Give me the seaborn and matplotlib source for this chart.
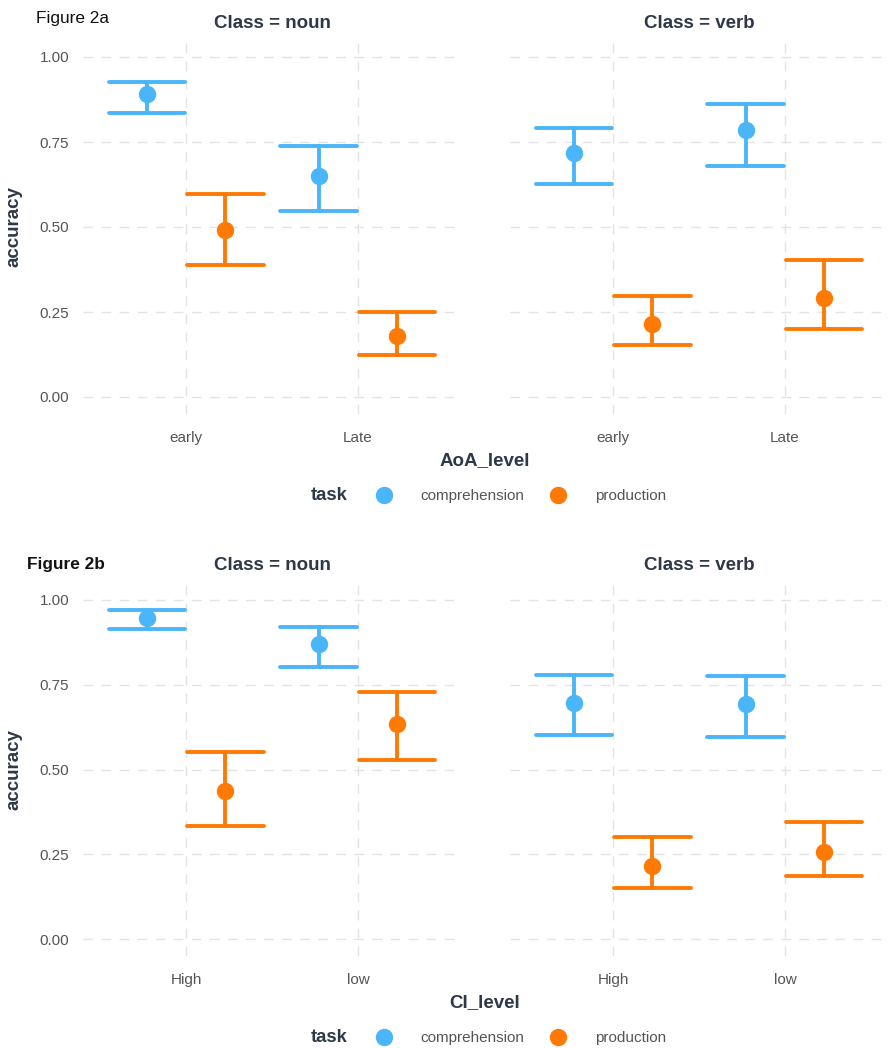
import numpy as np
import pandas as pd
import seaborn as sns
import matplotlib
matplotlib.use("Agg")
import matplotlib.pyplot as plt
from matplotlib.lines import Line2D

# ---- data -------------------------------------------------------------
classes = ["noun", "verb"]
tasks = ["comprehension", "production"]
aoa_levels = ["early", "Late"]
ci_levels = ["High", "low"]

# ordered by class -> level -> task
aoa_mean = [0.890, 0.492, 0.649, 0.180, 0.718, 0.216, 0.784, 0.292]
aoa_lower = [0.836, 0.389, 0.546, 0.125, 0.627, 0.154, 0.680, 0.200]
aoa_upper = [0.927, 0.596, 0.738, 0.251, 0.791, 0.296, 0.861, 0.404]

ci_mean = [0.948, 0.438, 0.871, 0.635, 0.697, 0.216, 0.692, 0.257]
ci_lower = [0.914, 0.332, 0.803, 0.528, 0.601, 0.150, 0.596, 0.185]
ci_upper = [0.970, 0.551, 0.919, 0.730, 0.779, 0.301, 0.776, 0.345]

y_ticks = [0.0, 0.25, 0.5, 0.75, 1.0]
y_tick_labels = ["0.00", "0.25", "0.50", "0.75", "1.00"]

palette = {"comprehension": "#4AB5F8", "production": "#FF7A05"}


def long_form(levels, mean, lower, upper):
    """Three rows per cell (lower, estimate, upper) so that the median gives
    the estimate and the min/max give the interval."""
    rows = []
    i = 0
    for c in classes:
        for lv in levels:
            for t in tasks:
                for v in (lower[i], mean[i], upper[i]):
                    rows.append({"Class": c, "level": lv, "task": t, "accuracy": v})
                i += 1
    return pd.DataFrame(rows)


df_a = long_form(aoa_levels, aoa_mean, aoa_lower, aoa_upper)
df_b = long_form(ci_levels, ci_mean, ci_lower, ci_upper)

# ---- styling ----------------------------------------------------------
sns.set_theme(style="white")
plt.rcParams["font.family"] = ["Liberation Sans", "DejaVu Sans"]

W, H = 888, 1048
fig = plt.figure(figsize=(W / 100, H / 100), dpi=100)
fig.patch.set_facecolor("white")

title_col = "#2D3848"
tick_col = "#555555"
grid_col = "#E3E3E3"


def px_axes(left, top, width, height):
    return fig.add_axes([left / W, 1 - (top + height) / H, width / W, height / H])


def draw_block(df, levels, top, height, fig_label, label_weight, xtitle):
    panels = [(83, classes[0]), (510, classes[1])]
    for j, (left, cls) in enumerate(panels):
        ax = px_axes(left, top, 378, height)
        sub = df[df["Class"] == cls]
        sns.pointplot(
            data=sub, x="level", y="accuracy", hue="task",
            order=levels, hue_order=tasks, palette=palette,
            estimator="median", errorbar=lambda v: (v.min(), v.max()),
            dodge=0.456, capsize=0.446, linestyle="none",
            markersize=10.5, err_kws={"linewidth": 2.8},
            legend=False, ax=ax,
        )
        ax.set_xlim(-0.6, 1.6)
        ax.set_ylim(-0.05, 1.05)
        ax.set_yticks(y_ticks)
        ax.set_yticklabels(y_tick_labels if j == 0 else [])
        ax.set_xlabel("")
        ax.set_ylabel("")
        for s in ax.spines.values():
            s.set_visible(False)
        ax.tick_params(axis="both", length=0, labelsize=11, colors=tick_col)
        ax.tick_params(axis="x", pad=12)
        ax.tick_params(axis="y", pad=10)
        ax.grid(True, axis="both", color=grid_col, linewidth=1.0,
                linestyle=(0, (7, 6)))
        ax.set_axisbelow(True)
        ax.set_facecolor("white")
        ax.set_title(f"Class = {cls}", fontsize=13.5, fontweight="bold",
                     color=title_col, pad=9)

    mid = top + height / 2
    fig.text(14 / W, 1 - mid / H, "accuracy", rotation=90, ha="center",
             va="center", fontsize=13.5, fontweight="bold", color=title_col)
    fig.text(fig_label[0] / W, 1 - fig_label[1] / H, fig_label[2], ha="left",
             va="center", fontsize=12.4, fontweight=label_weight, color="#111111")
    xt_y = top + height + 47
    fig.text(485 / W, 1 - xt_y / H, xtitle, ha="center", va="center",
             fontsize=13.5, fontweight="bold", color=title_col)

    leg_y = top + height + 82
    fig.text(329 / W, 1 - leg_y / H, "task", ha="center", va="center",
             fontsize=13.3, fontweight="bold", color=title_col)
    handles = [Line2D([], [], linestyle="none", marker="o", markersize=11.5,
                      markerfacecolor=palette[t], markeredgecolor=palette[t])
               for t in tasks]
    fig.legend(handles, tasks, loc="center left",
               bbox_to_anchor=(375 / W, 1 - leg_y / H), ncol=2, frameon=False,
               fontsize=11, handlelength=1.2, handletextpad=1.8,
               columnspacing=1.6, borderpad=0, borderaxespad=0,
               labelcolor=tick_col)


draw_block(df_a, aoa_levels, 40, 374, (36, 19, "Figure 2a"), "normal", "AoA_level")
draw_block(df_b, ci_levels, 583, 373, (27, 564, "Figure 2b"), "bold", "CI_level")

fig.savefig("out.png", dpi=100, facecolor="white")
